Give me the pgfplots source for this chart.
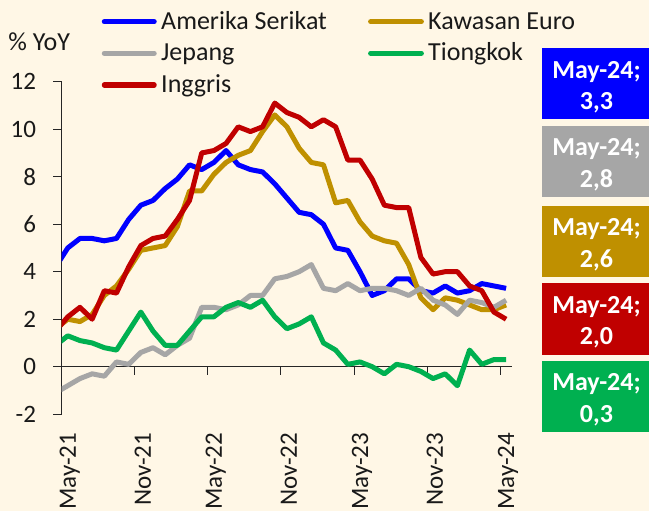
\documentclass[border=0pt]{standalone}
\usepackage{fontspec}
\setmainfont{Carlito}
\usepackage{pgfplots}
\pgfplotsset{compat=1.18}
\definecolor{bgc}{RGB}{255,247,230}
\definecolor{cus}{RGB}{0,0,255}
\definecolor{ceu}{RGB}{191,144,0}
\definecolor{cjp}{RGB}{166,166,166}
\definecolor{ccn}{RGB}{0,176,80}
\definecolor{cuk}{RGB}{192,0,0}
\newcommand{\txtfont}{\fontsize{26}{31.7}\selectfont}
\begin{document}
\begin{tikzpicture}[x=1pt,y=1pt]
\fill[bgc] (0,0) rectangle (649,511);
\path[use as bounding box] (0,0) rectangle (649,511);
\begin{axis}[
  at={(61.7pt,96.8pt)}, anchor=south west,
  scale only axis, width=450.5pt, height=332.5pt,
  xmin=0, xmax=37, ymin=-2, ymax=12,
  axis y line*=left, axis x line*=bottom,
  x axis line style={draw=none},
  y axis line style={line width=0.8pt, black!85},
  xtick={0,6,12,18,24,30,36},
  xticklabels={May-21,Nov-21,May-22,Nov-22,May-23,Nov-23,May-24},
  ytick={-2,0,2,4,6,8,10,12},
  yticklabels={-2,0,2,4,6,8,10,12},
  tick align=outside, major tick length=8.5pt,
  xtick style={draw=none},
  ytick style={black!85, line width=0.8pt},
  tick label style={font=\fontsize{25}{30}\selectfont, text=black!90},
  yticklabel style={inner sep=0pt, anchor=east, xshift=-17pt},
  xticklabel style={inner sep=0pt, yshift=-10pt, xshift=8pt, rotate=90, anchor=east},
  every axis plot/.append style={line width=5pt, line join=round, no markers},
  clip=true,
]
\draw[line width=0.8pt, black!85] (axis cs:0,0) -- (axis cs:37,0);
\pgfplotsinvokeforeach{0,6,12,18,24,30,36}{\draw[line width=0.8pt, black!85] (axis cs:#1,0) -- ++(0pt,-8.5pt);}
% Amerika Serikat
\addplot[cus] coordinates {(-0.5,4.2)(0.5,5.0)(1.5,5.4)(2.5,5.4)(3.5,5.3)(4.5,5.4)(5.5,6.2)(6.5,6.8)(7.5,7.0)(8.5,7.5)(9.5,7.9)(10.5,8.5)(11.5,8.3)(12.5,8.6)(13.5,9.1)(14.5,8.5)(15.5,8.3)(16.5,8.2)(17.5,7.7)(18.5,7.1)(19.5,6.5)(20.5,6.4)(21.5,6.0)(22.5,5.0)(23.5,4.9)(24.5,4.0)(25.5,3.0)(26.5,3.2)(27.5,3.7)(28.5,3.7)(29.5,3.2)(30.5,3.1)(31.5,3.4)(32.5,3.1)(33.5,3.2)(34.5,3.5)(35.5,3.4)(36.5,3.3)};
% Kawasan Euro
\addplot[ceu] coordinates {(-0.5,1.6)(0.5,2.0)(1.5,1.9)(2.5,2.2)(3.5,3.0)(4.5,3.4)(5.5,4.1)(6.5,4.9)(7.5,5.0)(8.5,5.1)(9.5,5.9)(10.5,7.4)(11.5,7.4)(12.5,8.1)(13.5,8.6)(14.5,8.9)(15.5,9.1)(16.5,9.9)(17.5,10.6)(18.5,10.1)(19.5,9.2)(20.5,8.6)(21.5,8.5)(22.5,6.9)(23.5,7.0)(24.5,6.1)(25.5,5.5)(26.5,5.3)(27.5,5.2)(28.5,4.3)(29.5,2.9)(30.5,2.4)(31.5,2.9)(32.5,2.8)(33.5,2.6)(34.5,2.4)(35.5,2.4)(36.5,2.6)};
% Jepang
\addplot[cjp] coordinates {(-0.5,-1.1)(0.5,-0.8)(1.5,-0.5)(2.5,-0.3)(3.5,-0.4)(4.5,0.2)(5.5,0.1)(6.5,0.6)(7.5,0.8)(8.5,0.5)(9.5,0.9)(10.5,1.2)(11.5,2.5)(12.5,2.5)(13.5,2.4)(14.5,2.6)(15.5,3.0)(16.5,3.0)(17.5,3.7)(18.5,3.8)(19.5,4.0)(20.5,4.3)(21.5,3.3)(22.5,3.2)(23.5,3.5)(24.5,3.2)(25.5,3.3)(26.5,3.3)(27.5,3.2)(28.5,3.0)(29.5,3.3)(30.5,2.8)(31.5,2.6)(32.5,2.2)(33.5,2.8)(34.5,2.7)(35.5,2.5)(36.5,2.8)};
% Tiongkok
\addplot[ccn] coordinates {(-0.5,0.9)(0.5,1.3)(1.5,1.1)(2.5,1.0)(3.5,0.8)(4.5,0.7)(5.5,1.5)(6.5,2.3)(7.5,1.5)(8.5,0.9)(9.5,0.9)(10.5,1.5)(11.5,2.1)(12.5,2.1)(13.5,2.5)(14.5,2.7)(15.5,2.5)(16.5,2.8)(17.5,2.1)(18.5,1.6)(19.5,1.8)(20.5,2.1)(21.5,1.0)(22.5,0.7)(23.5,0.1)(24.5,0.2)(25.5,0.0)(26.5,-0.3)(27.5,0.1)(28.5,0.0)(29.5,-0.2)(30.5,-0.5)(31.5,-0.3)(32.5,-0.8)(33.5,0.7)(34.5,0.1)(35.5,0.3)(36.5,0.3)};
% Inggris
\addplot[cuk] coordinates {(-0.5,1.5)(0.5,2.1)(1.5,2.5)(2.5,2.0)(3.5,3.2)(4.5,3.1)(5.5,4.2)(6.5,5.1)(7.5,5.4)(8.5,5.5)(9.5,6.2)(10.5,7.0)(11.5,9.0)(12.5,9.1)(13.5,9.4)(14.5,10.1)(15.5,9.9)(16.5,10.1)(17.5,11.1)(18.5,10.7)(19.5,10.5)(20.5,10.1)(21.5,10.4)(22.5,10.1)(23.5,8.7)(24.5,8.7)(25.5,7.9)(26.5,6.8)(27.5,6.7)(28.5,6.7)(29.5,4.6)(30.5,3.9)(31.5,4.0)(32.5,4.0)(33.5,3.4)(34.5,3.2)(35.5,2.3)(36.5,2.0)};
\end{axis}
% y-axis unit
\node[anchor=base west, inner sep=0pt, font=\txtfont, text=black!90] at (8.3,460) {\% YoY};
% legend
\draw[cus, line width=5.5pt, line cap=round] (104.5,489.3) -- (154,489.3);
\node[anchor=base west, inner sep=0pt, font=\txtfont, text=black!90] at (161,481.7) {Amerika Serikat};
\draw[cjp, line width=5.5pt, line cap=round] (104.5,457.7) -- (154,457.7);
\node[anchor=base west, inner sep=0pt, font=\txtfont, text=black!90] at (161,450) {Jepang};
\draw[cuk, line width=5.5pt, line cap=round] (104.5,426) -- (154,426);
\node[anchor=base west, inner sep=0pt, font=\txtfont, text=black!90] at (161,418.3) {Inggris};
\draw[ceu, line width=5.5pt, line cap=round] (370.8,489.3) -- (421.2,489.3);
\node[anchor=base west, inner sep=0pt, font=\txtfont, text=black!90] at (428,481.7) {Kawasan Euro};
\draw[ccn, line width=5.5pt, line cap=round] (370.8,457.7) -- (421.2,457.7);
\node[anchor=base west, inner sep=0pt, font=\txtfont, text=black!90] at (428,450) {Tiongkok};
% value boxes
\fill[cus] (541.7,462.7) rectangle (649,391.7);
\node[anchor=base, inner sep=0pt, font=\txtfont\bfseries, text=white] at (596.5,432.7) {May-24;};
\node[anchor=base, inner sep=0pt, font=\txtfont\bfseries, text=white] at (596.5,401) {3,3};
\fill[cjp] (541.7,385) rectangle (649,313.7);
\node[anchor=base, inner sep=0pt, font=\txtfont\bfseries, text=white] at (596.5,355) {May-24;};
\node[anchor=base, inner sep=0pt, font=\txtfont\bfseries, text=white] at (596.5,323.3) {2,8};
\fill[ceu] (541.7,305) rectangle (649,233.7);
\node[anchor=base, inner sep=0pt, font=\txtfont\bfseries, text=white] at (596.5,275) {May-24;};
\node[anchor=base, inner sep=0pt, font=\txtfont\bfseries, text=white] at (596.5,243.3) {2,6};
\fill[cuk] (541.7,227.7) rectangle (649,156);
\node[anchor=base, inner sep=0pt, font=\txtfont\bfseries, text=white] at (596.5,197.7) {May-24;};
\node[anchor=base, inner sep=0pt, font=\txtfont\bfseries, text=white] at (596.5,166) {2,0};
\fill[ccn] (541.7,150.3) rectangle (649,79.3);
\node[anchor=base, inner sep=0pt, font=\txtfont\bfseries, text=white] at (596.5,120.3) {May-24;};
\node[anchor=base, inner sep=0pt, font=\txtfont\bfseries, text=white] at (596.5,88.6) {0,3};
\end{tikzpicture}
\end{document}
